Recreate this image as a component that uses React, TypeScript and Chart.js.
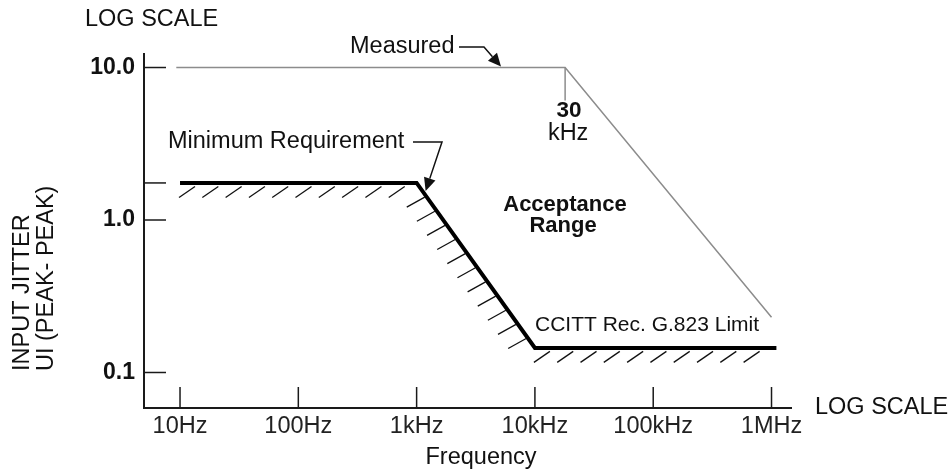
import React, { useEffect, useRef } from 'react';
import { Chart, registerables } from 'chart.js';

Chart.register(...registerables);

const FONT = '"Liberation Sans", Arial, Helvetica, sans-serif';

// ---- data ----
const xTickValues = [10, 100, 1000, 10000, 100000, 1000000];
const xTickLabels = ['10Hz', '100Hz', '1kHz', '10kHz', '100kHz', '1MHz'];
const yTickValues = [0.1, 1, 10];
const yTickLabels = ['0.1', '1.0', '10.0'];
const minReqFreq = [10, 1000, 10000, 1100000];
const minReqJitter = [1.75, 1.75, 0.145, 0.145];
const measuredFreq = [9.3, 18000, 1000000];
const measuredJitter = [10, 10, 0.23];
const xRange = [4.96, 1.49e6];
const yRange = [0.0585, 12.45];

const yTitleLines = ['INPUT JITTER', 'UI (PEAK- PEAK)'];

function labelFor(values: number[], labels: string[], v: number) {
  const i = values.findIndex((t) => Math.abs(t - v) / t < 1e-6);
  return i >= 0 ? labels[i] : '';
}

function font(size: number, bold = false) {
  return `${bold ? 'bold ' : ''}${size}px ${FONT}`;
}

function arrowHead(ctx: CanvasRenderingContext2D, fx: number, fy: number, tx: number, ty: number, len: number, half: number) {
  const dx = tx - fx;
  const dy = ty - fy;
  const d = Math.hypot(dx, dy);
  const ux = dx / d;
  const uy = dy / d;
  const bx = tx - ux * len;
  const by = ty - uy * len;
  ctx.beginPath();
  ctx.moveTo(tx, ty);
  ctx.lineTo(bx - uy * half, by + ux * half);
  ctx.lineTo(bx + uy * half, by - ux * half);
  ctx.closePath();
  ctx.fill();
  return [bx, by];
}

const decorations = {
  id: 'decorations',
  afterDatasetsDraw(chart: any) {
    const { ctx, chartArea: a, scales } = chart;
    const xs = scales.x;
    const ys = scales.y;
    const ink = '#111';
    ctx.save();

    // axes
    ctx.strokeStyle = '#1a1a1a';
    ctx.lineWidth = 2;
    ctx.beginPath();
    ctx.moveTo(a.left, a.top);
    ctx.lineTo(a.left, a.bottom);
    ctx.lineTo(a.right, a.bottom);
    ctx.stroke();

    // inside tick marks
    ctx.lineWidth = 1.5;
    const yMarks = [...yTickValues, minReqJitter[0]];
    yMarks.forEach((v) => {
      const y = ys.getPixelForValue(v);
      ctx.beginPath();
      ctx.moveTo(a.left, y);
      ctx.lineTo(a.left + 22, y);
      ctx.stroke();
    });
    xTickValues.forEach((v) => {
      const x = xs.getPixelForValue(v);
      ctx.beginPath();
      ctx.moveTo(x, a.bottom);
      ctx.lineTo(x, a.bottom - 21);
      ctx.stroke();
    });

    // hatching under minimum requirement
    const pts = minReqFreq.map((f, i) => [xs.getPixelForValue(f), ys.getPixelForValue(minReqJitter[i])]);
    ctx.strokeStyle = '#111';
    ctx.lineWidth = 1.3;
    for (let i = 0; i < pts.length - 1; i++) {
      const [x0, y0] = pts[i];
      const [x1, y1] = pts[i + 1];
      const len = Math.hypot(x1 - x0, y1 - y0);
      const ux = (x1 - x0) / len;
      const uy = (y1 - y0) / len;
      const flat = Math.abs(y1 - y0) < 1;
      const step = flat ? 23.3 : 17.4;
      const start = flat ? 15 : 17.4;
      const hx = flat ? -16 : -18;
      const hy = flat ? 11 : 10;
      const off = flat ? 3.5 : 0;
      for (let t = start; t <= len - 10; t += step) {
        const px = x0 + ux * t - (flat ? 0 : 2);
        const py = y0 + uy * t + off;
        ctx.beginPath();
        ctx.moveTo(px, py);
        ctx.lineTo(px + hx, py + hy);
        ctx.stroke();
      }
    }

    // measured corner drop line
    const cx = xs.getPixelForValue(measuredFreq[1]);
    const cy = ys.getPixelForValue(measuredJitter[1]);
    ctx.strokeStyle = '#8c8c8c';
    ctx.lineWidth = 1.5;
    ctx.beginPath();
    ctx.moveTo(cx, cy);
    ctx.lineTo(cx, cy + 33);
    ctx.stroke();

    // texts
    ctx.fillStyle = ink;
    ctx.textBaseline = 'middle';
    ctx.textAlign = 'left';
    ctx.font = font(23.5);
    ctx.fillText('LOG SCALE', 85, 20);
    ctx.fillText('LOG SCALE', a.right + 23, a.bottom);
    ctx.textAlign = 'center';
    ctx.fillText('Frequency', 481, 458);

    // y title
    ctx.textAlign = 'left';
    [23, 47].forEach((x, i) => {
      ctx.save();
      ctx.translate(x, 371);
      ctx.rotate(-Math.PI / 2);
      ctx.fillText(yTitleLines[i], 0, 0);
      ctx.restore();
    });

    // Measured label + leader
    ctx.fillText('Measured', 350, 47);
    ctx.strokeStyle = ink;
    ctx.lineWidth = 1.5;
    const mTip = [501, cy - 1];
    const mBend = [484, 47];
    const [mbx, mby] = arrowHead(ctx, mBend[0], mBend[1], mTip[0], mTip[1], 13, 6);
    ctx.beginPath();
    ctx.moveTo(459, 47);
    ctx.lineTo(mBend[0], mBend[1]);
    ctx.lineTo(mbx, mby);
    ctx.stroke();

    // Minimum Requirement label + leader
    ctx.fillText('Minimum Requirement', 168, 142);
    const rTip = [pts[1][0] + 9, pts[1][1] + 8];
    const rBend = [442, 142];
    const [rbx, rby] = arrowHead(ctx, rBend[0], rBend[1], rTip[0], rTip[1], 13, 6);
    ctx.beginPath();
    ctx.moveTo(413, 142);
    ctx.lineTo(rBend[0], rBend[1]);
    ctx.lineTo(rbx, rby);
    ctx.stroke();

    // 30 kHz
    ctx.textAlign = 'center';
    ctx.font = font(22.5, true);
    ctx.fillText('30', cx + 4, 111);
    ctx.font = font(23.5);
    ctx.fillText('kHz', cx + 3, 134);

    // Acceptance Range
    ctx.font = font(22, true);
    ctx.fillText('Acceptance', 565, 205);
    ctx.fillText('Range', 563, 226);

    // CCITT
    ctx.textAlign = 'left';
    ctx.font = font(21);
    ctx.fillText('CCITT Rec. G.823 Limit', 535, 325);

    ctx.restore();
  },
};

export default function App() {
  const ref = useRef<HTMLCanvasElement | null>(null);

  useEffect(() => {
    if (!ref.current) return;
    const chart = new Chart(ref.current, {
      type: 'scatter',
      data: {
        datasets: [
          {
            label: 'Minimum Requirement',
            data: minReqFreq.map((f, i) => ({ x: f, y: minReqJitter[i] })),
            showLine: true,
            borderColor: '#000',
            borderWidth: 4,
            pointRadius: 0,
            tension: 0,
            fill: false,
            borderJoinStyle: 'miter',
          },
          {
            label: 'Measured',
            data: measuredFreq.map((f, i) => ({ x: f, y: measuredJitter[i] })),
            showLine: true,
            borderColor: '#8c8c8c',
            borderWidth: 1.5,
            pointRadius: 0,
            tension: 0,
            fill: false,
          },
        ],
      },
      options: {
        animation: false,
        responsive: true,
        maintainAspectRatio: false,
        layout: { padding: { top: 53, right: 160, left: 0, bottom: 0 } },
        plugins: {
          legend: { display: false },
          tooltip: { enabled: false },
          title: { display: false },
        },
        scales: {
          x: {
            type: 'logarithmic',
            position: 'bottom',
            min: xRange[0],
            max: xRange[1],
            grid: { display: false, drawTicks: false },
            border: { display: false },
            ticks: {
              autoSkip: false,
              maxRotation: 0,
              minRotation: 0,
              padding: 4,
              color: '#222',
              font: { family: FONT, size: 23.5 },
              callback: (v: any) => labelFor(xTickValues, xTickLabels, Number(v)),
            },
            afterBuildTicks: (s: any) => {
              s.ticks = xTickValues.map((v) => ({ value: v }));
            },
            afterFit: (s: any) => {
              s.height = 66;
              s.paddingLeft = 0;
              s.paddingRight = 0;
            },
          },
          y: {
            type: 'logarithmic',
            position: 'left',
            min: yRange[0],
            max: yRange[1],
            grid: { display: false, drawTicks: false },
            border: { display: false },
            ticks: {
              autoSkip: false,
              padding: 9,
              color: '#111',
              font: { family: FONT, size: 23, weight: 'bold' },
              callback: (v: any) => labelFor(yTickValues, yTickLabels, Number(v)),
            },
            afterBuildTicks: (s: any) => {
              s.ticks = yTickValues.map((v) => ({ value: v }));
            },
            afterFit: (s: any) => {
              s.width = 144;
              s.paddingTop = 0;
              s.paddingBottom = 0;
            },
          },
        },
      } as any,
      plugins: [decorations],
    });
    return () => chart.destroy();
  }, []);

  return (
    <div style={{ position: 'fixed', left: 0, top: 0, width: 952, height: 474, background: '#fff' }}>
      <canvas ref={ref} />
    </div>
  );
}
